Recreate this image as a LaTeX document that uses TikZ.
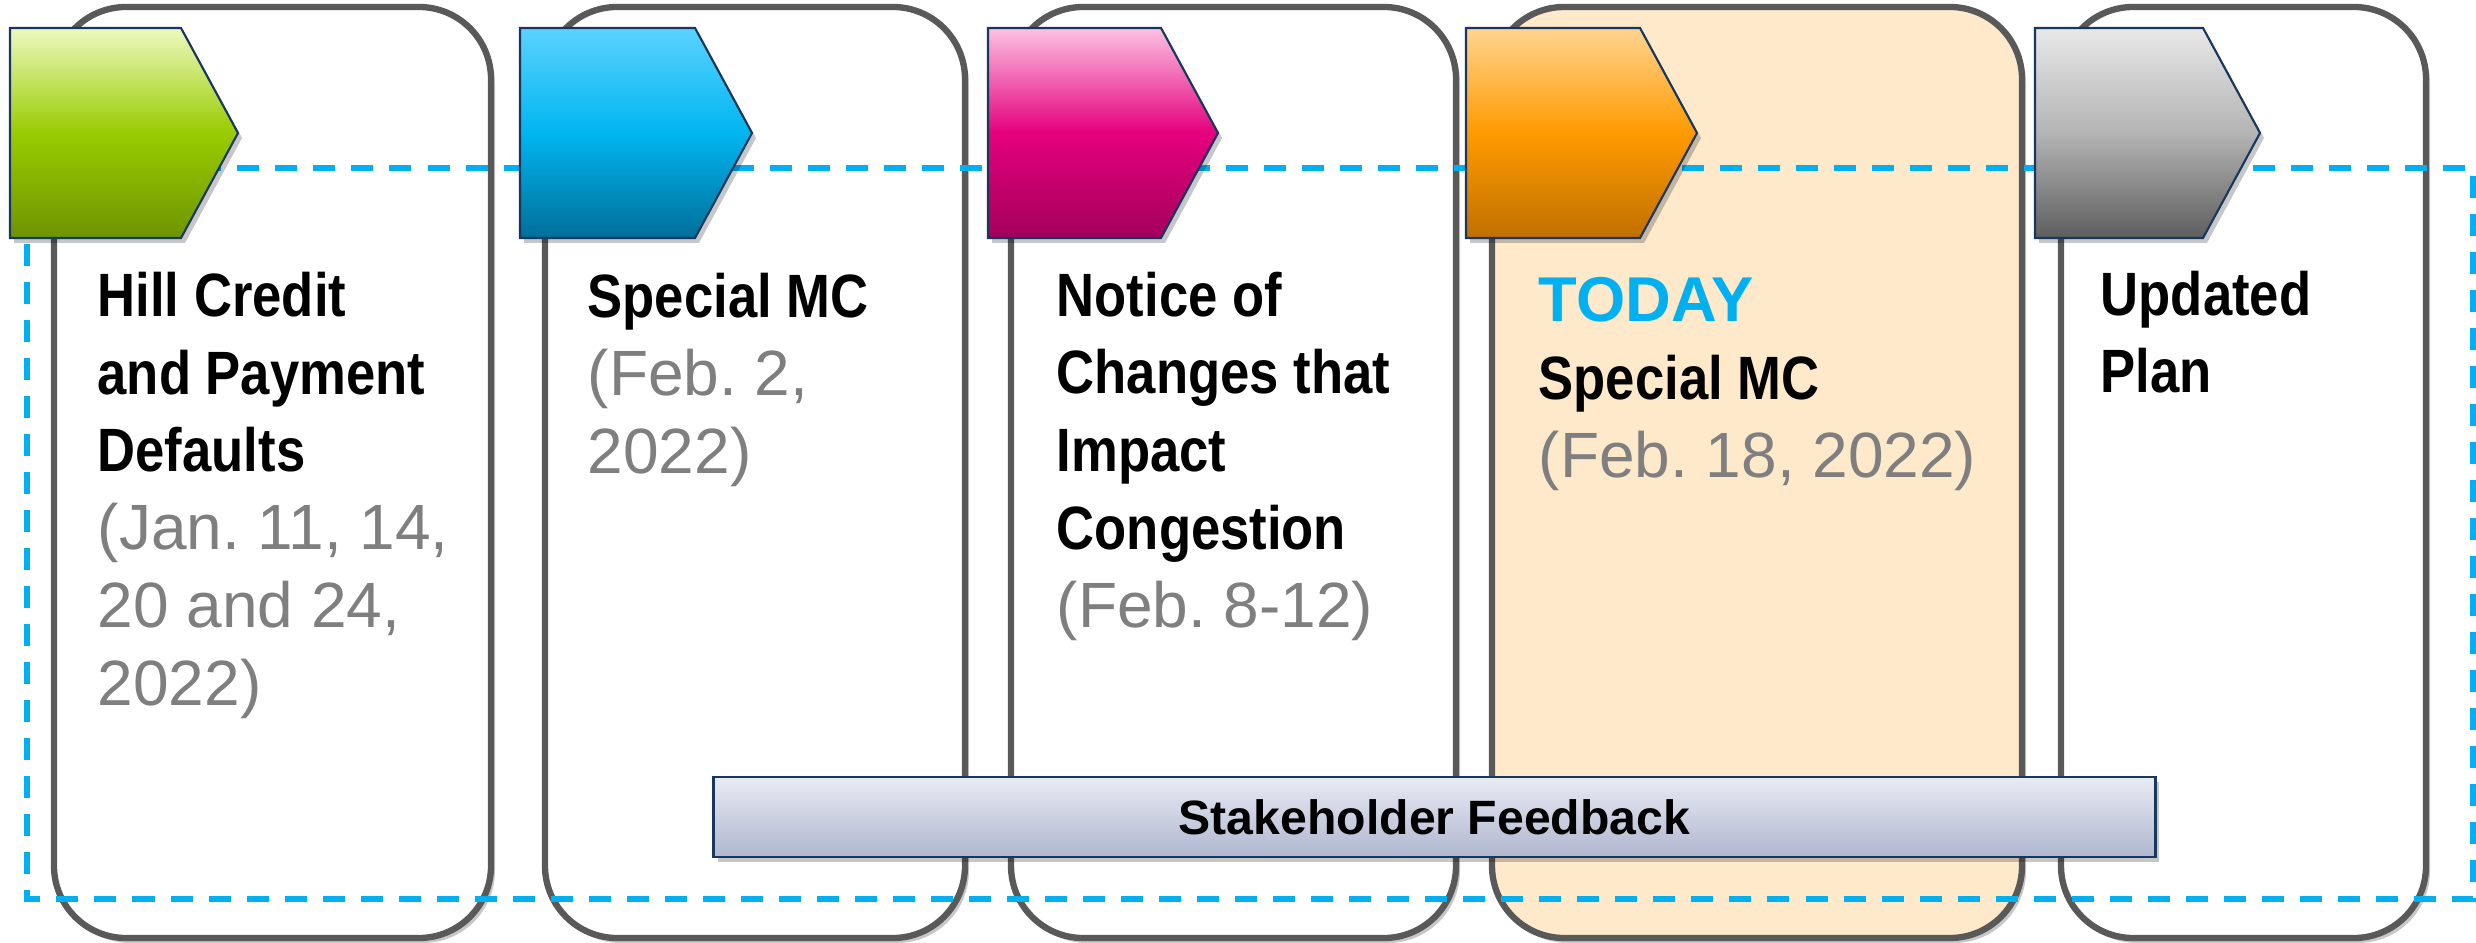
\documentclass[tikz,border=0pt]{standalone}
\usepackage{fontspec}
\setmainfont{Liberation Sans}
\newfontfamily\narrowsf[FakeStretch=0.86]{Liberation Sans}
\usetikzlibrary{shadows}
\definecolor{cframe}{HTML}{595959}
\definecolor{cdash}{HTML}{00B0F0}
\definecolor{cnavy}{HTML}{17375E}
\definecolor{cdate}{HTML}{7F7F7F}
\definecolor{ctoday}{HTML}{FEE9CB}
\definecolor{limehi}{HTML}{EDF9C0}
\definecolor{lime}{HTML}{99CC00}
\definecolor{limelo}{HTML}{6E9400}
\definecolor{skyhi}{HTML}{5BD3FF}
\definecolor{sky}{HTML}{00B5F0}
\definecolor{skylo}{HTML}{006F99}
\definecolor{pinkhi}{HTML}{FBC2E2}
\definecolor{pink}{HTML}{E5007D}
\definecolor{pinklo}{HTML}{A3005C}
\definecolor{amberhi}{HTML}{FFD490}
\definecolor{amber}{HTML}{FF9A00}
\definecolor{amberlo}{HTML}{C07000}
\definecolor{steelhi}{HTML}{E8E8E8}
\definecolor{steel}{HTML}{B4B4B4}
\definecolor{steello}{HTML}{5E5E5E}
\definecolor{barhi}{HTML}{E9EBF3}
\definecolor{barlo}{HTML}{AFB6CF}
\frenchspacing
% grey regular type for the dates, one line at a time
\newcommand\dt[1]{{\fontsize{18.2pt}{22.1pt}\selectfont\normalfont\color{cdate}#1}}
\tikzset{
  every picture/.style={x=0.01cm, y=-0.01cm},
  soft/.style={drop shadow={shadow xshift=0.04cm, shadow yshift=-0.05cm, opacity=0.22, fill=black}},
  card/.style={draw=cframe, line width=1.8pt, rounded corners=0.72cm, fill=#1, soft},
  card/.default=white,
  tab/.style={draw=cnavy, line width=0.6pt, top color=#1hi, bottom color=#1lo, middle color=#1, soft},
  dashbox/.style={draw=cdash, line width=1.7pt, dash pattern=on 0.22cm off 0.16cm},
  cardtext/.style={anchor=base west, align=left, inner sep=0pt, font=\fontsize{17.4pt}{22.1pt}\selectfont\narrowsf\bfseries},
  feedback/.style={draw=cnavy, line width=0.8pt, top color=barhi, bottom color=barlo, minimum width=14.41cm, minimum height=0.8cm, inner sep=0pt, font=\fontsize{13.7pt}{16pt}\selectfont\bfseries, soft},
}
\begin{document}
\begin{tikzpicture}
  \useasboundingbox (0,0) rectangle (2476,943);
  % step cards, the fourth one is where we are now
  \foreach \l/\r/\f in {54/491/white, 545/965/white, 1011/1456/white, 1492/2022/ctoday, 2061/2426/white}
    \draw[card=\f] (\l,7) rectangle (\r,938);
  % dashed frame round the whole process
  \draw[dashbox] (27,168) rectangle (2473,899);
  % arrow tabs on top of each card
  \foreach \x/\w/\col in {10/171/lime, 520/175/sky, 988/173/pink, 1466/174/amber, 2035/168/steel}
    \draw[tab=\col] (\x,28) -- ++(\w,0) -- ++(57,105) -- ++(-57,105) -- ++(-\w,0) -- cycle;
  \node[feedback] (fb) at (1434.5,817) {Stakeholder Feedback};
  % card texts, placed by the baseline of their last line
  \node[cardtext] (t1) at (97,705) {Hill Credit\\and Payment\\Defaults\\\dt{(Jan. 11, 14,}\\\dt{20 and 24,}\\\dt{2022)}};
  \node[cardtext] (t2) at (587,473) {Special MC\\\dt{(Feb. 2,}\\\dt{2022)}};
  \node[cardtext] (t3) at (1056,627) {Notice of\\Changes that\\Impact\\Congestion\\\dt{(Feb. 8-12)}};
  \node[cardtext] (t4) at (1538,477) {{\fontsize{18pt}{22pt}\selectfont\normalfont\bfseries\color{cdash}TODAY}\\Special MC\\\dt{(Feb. 18, 2022)}};
  \node[cardtext] (t5) at (2100,393) {Updated\\Plan};
\end{tikzpicture}
\end{document}
